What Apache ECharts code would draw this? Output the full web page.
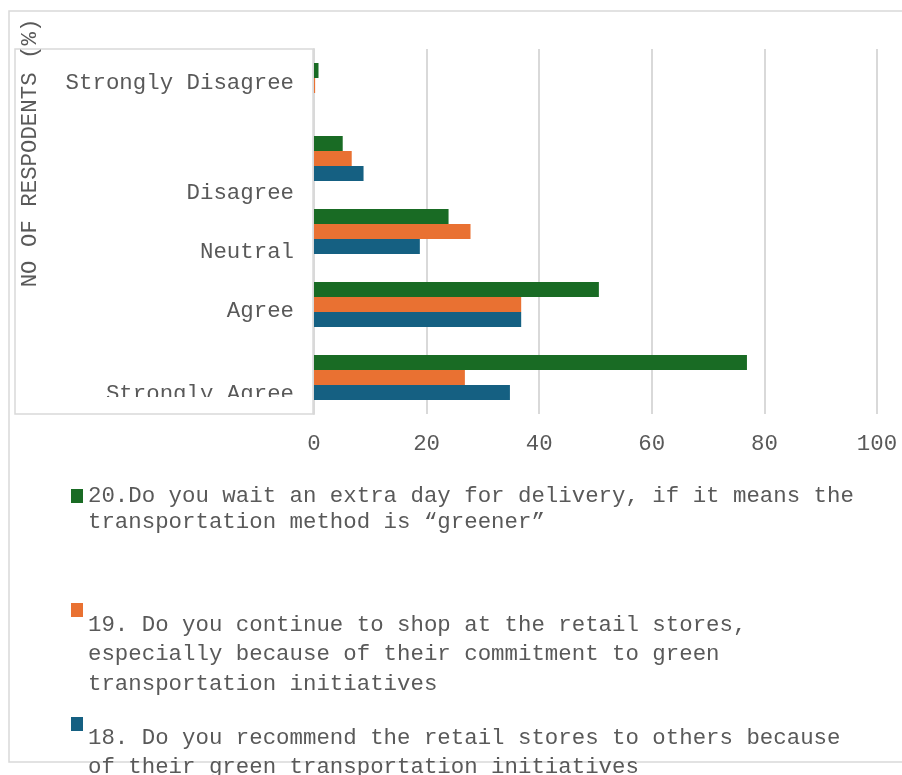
<!DOCTYPE html>
<html>
<head>
<meta charset="utf-8">
<script src="https://cdn.jsdelivr.net/npm/echarts@6/dist/echarts.min.js"></script>
<style>
  html, body { margin: 0; padding: 0; background: #fff; }
  #chart { width: 902px; height: 775px; }
</style>
</head>
<body>
<div id="chart"></div>
<script>
// categories, bottom -> top (axis order)
const categories = ["Strongly Agree", "Agree", "Neutral", "Disagree", "Strongly Disagree"];

// series values (% of respondents), same order as categories
const q20Values = [76.9, 50.6, 23.9, 5.1, 0.8];
const q19Values = [26.8, 36.8, 27.8, 6.7, 0.2];
const q18Values = [34.8, 36.8, 18.8, 8.8, 0];

const q20Name = "20.Do you wait an extra day for delivery, if it means the transportation method is “greener”";
const q19Name = "19. Do you continue to shop at the retail stores, especially because of their commitment to green transportation initiatives";
const q18Name = "18. Do you recommend the retail stores to others because of their green transportation initiatives";

// legend text wrapped like the original
const q20Lines = ["20.Do you wait an extra day for delivery, if it means the", "transportation method is “greener”"];
const q19Lines = ["19. Do you continue to shop at the retail stores,", "especially because of their commitment to green", "transportation initiatives"];
const q18Lines = ["18. Do you recommend the retail stores to others because", "of their green transportation initiatives"];

const xTicks = [0, 20, 40, 60, 80, 100];
const yTitle = "NO OF RESPODENTS (%)";

// label positions in the (misaligned) label box, top -> bottom
const labelY = { "Strongly Disagree": 83, "Disagree": 193, "Neutral": 252, "Agree": 311, "Strongly Agree": 394 };

const FONT = '"Courier New", "Liberation Mono", monospace';
const FS = 22.4;
const TXT = "#595959";
const GRID = "#d9d9d9";

const chart = echarts.init(document.getElementById("chart"), null, { renderer: "canvas" });

// blank lines on top push the text below the marker, like the original legend
function makeLegend(name, lines, top, lh, blank) {
  const text = new Array(blank).fill("").concat(lines).join("\n");
  return {
    data: [name],
    orient: "vertical",
    left: 71,
    top: top,
    padding: 0,
    icon: "rect",
    itemWidth: 12,
    itemHeight: 14,
    selectedMode: false,
    formatter: () => text,
    textStyle: {
      fontFamily: FONT,
      fontSize: FS,
      color: TXT,
      lineHeight: lh
    }
  };
}

const labelTexts = categories.map((c) => ({
  type: "text",
  z: 10,
  x: 294,
  y: labelY[c],
  style: {
    text: c,
    fill: TXT,
    fontFamily: FONT,
    fontSize: FS,
    align: "right",
    verticalAlign: "middle",
    textAlign: "right",
    textVerticalAlign: "middle"
  }
}));

const option = {
  animation: false,
  backgroundColor: "#fff",
  grid: { left: 314, right: 25, top: 49, bottom: 361, containLabel: false },
  xAxis: {
    type: "value",
    min: xTicks[0],
    max: xTicks[xTicks.length - 1],
    interval: 20,
    axisLine: { show: false },
    axisTick: { show: false },
    axisLabel: { color: TXT, fontFamily: FONT, fontSize: FS, margin: 19 },
    splitLine: { lineStyle: { color: GRID, width: 2 } }
  },
  yAxis: {
    type: "category",
    data: categories,
    axisLine: { lineStyle: { color: GRID, width: 2 } },
    axisTick: { show: false },
    axisLabel: { show: false }
  },
  legend: [
    makeLegend(q20Name, q20Lines, 457, 26, 1),
    makeLegend(q19Name, q19Lines, 521.5, 29.5, 3),
    makeLegend(q18Name, q18Lines, 666, 29, 2)
  ],
  // first series sits on top of each group
  series: [
    { name: q20Name, type: "bar", data: q20Values, barWidth: 15, barGap: "0%", itemStyle: { color: "#196b24" } },
    { name: q19Name, type: "bar", data: q19Values, barWidth: 15, barGap: "0%", itemStyle: { color: "#e97132" } },
    { name: q18Name, type: "bar", data: q18Values, barWidth: 15, barGap: "0%", itemStyle: { color: "#156082" } }
  ],
  graphic: [
    // outer chart border
    { type: "rect", z: 0, silent: true, shape: { x: 9, y: 11, width: 905, height: 751 },
      style: { fill: null, stroke: GRID, lineWidth: 1.5 } },
    // white label box over the axis area
    { type: "rect", z: 5, silent: true, shape: { x: 15, y: 49, width: 298, height: 365 },
      style: { fill: "#fff", stroke: GRID, lineWidth: 1.5 } },
    ...labelTexts,
    // bottom label is cut off in the original
    { type: "rect", z: 11, silent: true, shape: { x: 100, y: 397, width: 211, height: 16 },
      style: { fill: "#fff" } },
    {
      type: "text",
      z: 12,
      x: 30,
      y: 153,
      rotation: Math.PI / 2,
      style: {
        text: yTitle,
        fill: TXT,
        fontFamily: FONT,
        fontSize: FS,
        align: "center",
        verticalAlign: "middle",
        textAlign: "center",
        textVerticalAlign: "middle"
      }
    }
  ]
};

chart.setOption(option);
</script>
</body>
</html>
